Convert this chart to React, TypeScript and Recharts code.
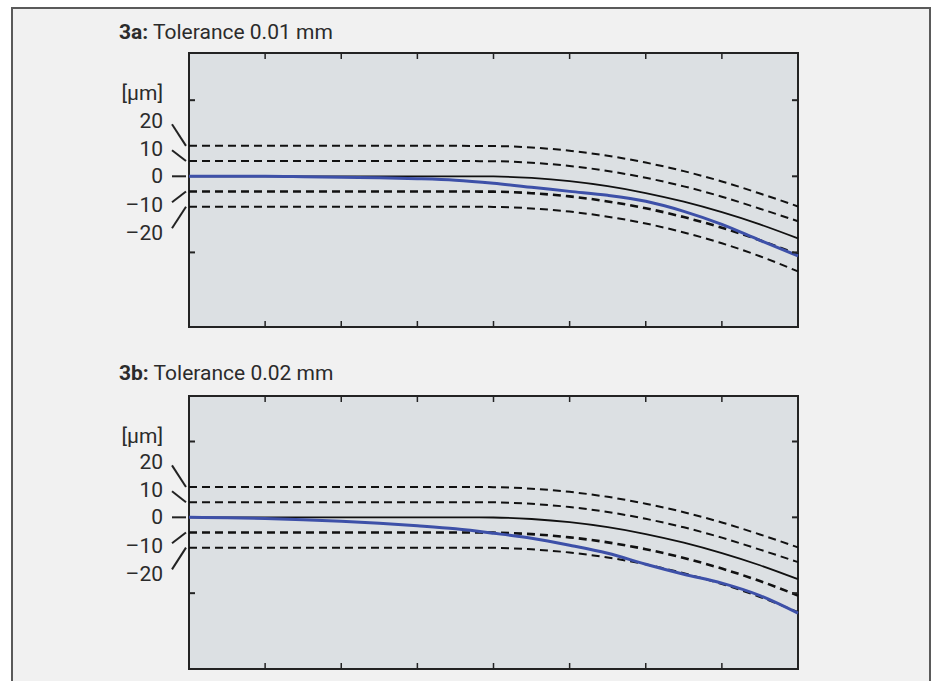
import { LineChart, Line, XAxis, YAxis, CartesianGrid, ReferenceArea, Label } from 'recharts';

// x positions along the part (8 tick intervals of 10)
const positions = [0, 5, 10, 15, 20, 25, 30, 35, 40, 45, 50, 55, 60, 65, 70, 75, 80];

// deviation in µm
const nominal = [0, 0, 0, 0, 0, 0, 0, 0, -0.1, -1.1, -3.2, -6.5, -11, -16.7, -23.6, -31.6, -40.8];
const upper20 = [20, 20, 20, 20, 20, 20, 20, 20, 19.9, 18.9, 16.8, 13.5, 9, 3.4, -3.4, -11.3, -19.8];
const upper10 = [10, 10, 10, 10, 10, 10, 10, 10, 9.9, 8.9, 6.8, 3.5, -1, -6.6, -13.4, -21.3, -29.5];
const lower10 = [-10, -10, -10, -10, -10, -10, -10, -10, -10.1, -11.1, -13.2, -16.5, -21, -26.8, -33.8, -42, -51.5];
const lower20 = [-20, -20, -20, -20, -20, -20, -20, -20, -20.1, -21.1, -23.2, -26.5, -31, -36.9, -44, -52.5, -62.5];
const measuredA = [0, 0, 0, -0.3, -0.7, -1, -1.6, -2.6, -4.6, -7.2, -9.9, -12.5, -16.4, -23, -31.6, -42.1, -52.3];
const measuredB = [0, -0.3, -0.8, -1.6, -2.6, -3.9, -5.6, -7.6, -10.5, -13.8, -18.4, -23.7, -30.9, -37.5, -43.4, -51.6, -63.2];

const xTicks = [10, 20, 30, 40, 50, 60, 70];
const yLabelValues = [20, 10, 0, -10, -20];
const yLabelTexts = ['20', '10', '0', '–10', '–20'];
const frameTicks = [50, -50];

const PLOT_W = 609;
const INK = '#232323';
const FONT = 'Roboto, "Liberation Sans", sans-serif';

function buildRows(measured: number[]) {
  return positions.map((x, i) => ({
    x,
    nominal: nominal[i],
    upper20: upper20[i],
    upper10: upper10[i],
    lower10: lower10[i],
    lower20: lower20[i],
    measured: measured[i],
  }));
}

function makeYTick(k: number) {
  return function YTick(props: any) {
    const { x, y, payload } = props;
    const v = payload.value;
    if (Math.abs(v) === 50) {
      return (
        <g>
          <line x1={x} y1={y} x2={x + 6} y2={y} stroke={INK} strokeWidth={2} />
          <line x1={x + PLOT_W} y1={y} x2={x + PLOT_W - 6} y2={y} stroke={INK} strokeWidth={2} />
        </g>
      );
    }
    const zeroY = y + v * k;
    const labelY = zeroY - v * (v > 0 ? 2.75 : 2.85);
    const leadY = zeroY - v * 2.6;
    const idx = yLabelValues.indexOf(v);
    return (
      <g>
        <text x={x - 26} y={labelY} textAnchor="end" dominantBaseline="central"
          fontFamily={FONT} fontSize={21} fill="#2b2b2b">
          {yLabelTexts[idx]}
        </text>
        <line x1={x - 17} y1={leadY} x2={x - 3} y2={y} stroke={INK} strokeWidth={2} />
        {v === 0 && (
          <line x1={x + PLOT_W} y1={y} x2={x + PLOT_W - 6} y2={y} stroke={INK} strokeWidth={2} />
        )}
      </g>
    );
  };
}

function makeXTick(plotH: number) {
  return function XTick(props: any) {
    const { x, y } = props;
    return (
      <g>
        <line x1={x} y1={y} x2={x} y2={y - 6} stroke={INK} strokeWidth={1.5} />
        <line x1={x} y1={y - plotH} x2={x} y2={y - plotH + 6} stroke={INK} strokeWidth={1.5} />
      </g>
    );
  };
}

function UnitLabel(props: any) {
  const vb = props.viewBox;
  return (
    <text x={vb.x + vb.width - 26} y={vb.y + 40} textAnchor="end" dominantBaseline="central"
      fontFamily={FONT} fontSize={21} fill="#2b2b2b">
      [µm]
    </text>
  );
}

function TolerancePlot({ measured, yMin, yMax, bottom }: { measured: number[]; yMin: number; yMax: number; bottom: number }) {
  const data = buildRows(measured);
  const plotH = 300 - 13 - bottom - 5;
  const k = plotH / (yMax - yMin);
  const dashed = { stroke: '#111', strokeDasharray: '8 5', dot: false, activeDot: false, isAnimationActive: false, type: 'monotone' as const };
  return (
    <LineChart width={830} height={300} data={data} margin={{ top: 13, right: 32, bottom, left: 0 }}>
      <CartesianGrid fill="#dce0e3" fillOpacity={1} horizontal={false} vertical={false} />
      <XAxis type="number" dataKey="x" domain={[0, 80]} ticks={xTicks} interval={0} height={5}
        axisLine={false} tickLine={false} tickSize={0} tickMargin={0} tick={makeXTick(plotH)} />
      <YAxis type="number" domain={[yMin, yMax]} ticks={[...yLabelValues, ...frameTicks]} interval={0} width={189}
        axisLine={false} tickLine={false} tickSize={0} tickMargin={0} tick={makeYTick(k)}>
        <Label content={<UnitLabel />} />
      </YAxis>
      <Line dataKey="upper20" strokeWidth={2} {...dashed} />
      <Line dataKey="upper10" strokeWidth={2} {...dashed} />
      <Line dataKey="lower10" strokeWidth={2.6} {...dashed} />
      <Line dataKey="lower20" strokeWidth={2} {...dashed} />
      <Line dataKey="nominal" type="monotone" stroke="#111" strokeWidth={1.8} dot={false} activeDot={false} isAnimationActive={false} />
      <Line dataKey="measured" type="monotone" stroke="#3d50a8" strokeWidth={3} dot={false} activeDot={false} isAnimationActive={false} />
      <ReferenceArea x1={0} x2={80} y1={yMin} y2={yMax} fill="none" stroke={INK} strokeWidth={2} ifOverflow="visible" />
    </LineChart>
  );
}

function Title({ tag, text, top }: { tag: string; text: string; top: number }) {
  return (
    <div style={{ position: 'absolute', left: 119, top, fontFamily: FONT, fontSize: 21, lineHeight: '24px', color: '#2b2b2b' }}>
      <b style={{ fontWeight: 700 }}>{tag}</b> {text}
    </div>
  );
}

export default function App() {
  return (
    <div style={{ position: 'relative', width: 934, height: 681, background: '#fff', overflow: 'hidden' }}>
      <style>{'body{margin:0}'}</style>
      <div style={{
        position: 'absolute', left: 11, top: 7, width: 916, height: 700,
        background: '#f1f1f1', borderLeft: '2px solid #5a5a5a', borderTop: '2px solid #5a5a5a', borderRight: '2px solid #5a5a5a',
      }} />
      <Title tag="3a:" text="Tolerance 0.01 mm" top={20} />
      <div style={{ position: 'absolute', left: 0, top: 40 }}>
        <TolerancePlot measured={measuredA} yMin={-99} yMax={81} bottom={8} />
      </div>
      <Title tag="3b:" text="Tolerance 0.02 mm" top={361} />
      <div style={{ position: 'absolute', left: 0, top: 383 }}>
        <TolerancePlot measured={measuredB} yMin={-100} yMax={80} bottom={9} />
      </div>
    </div>
  );
}
